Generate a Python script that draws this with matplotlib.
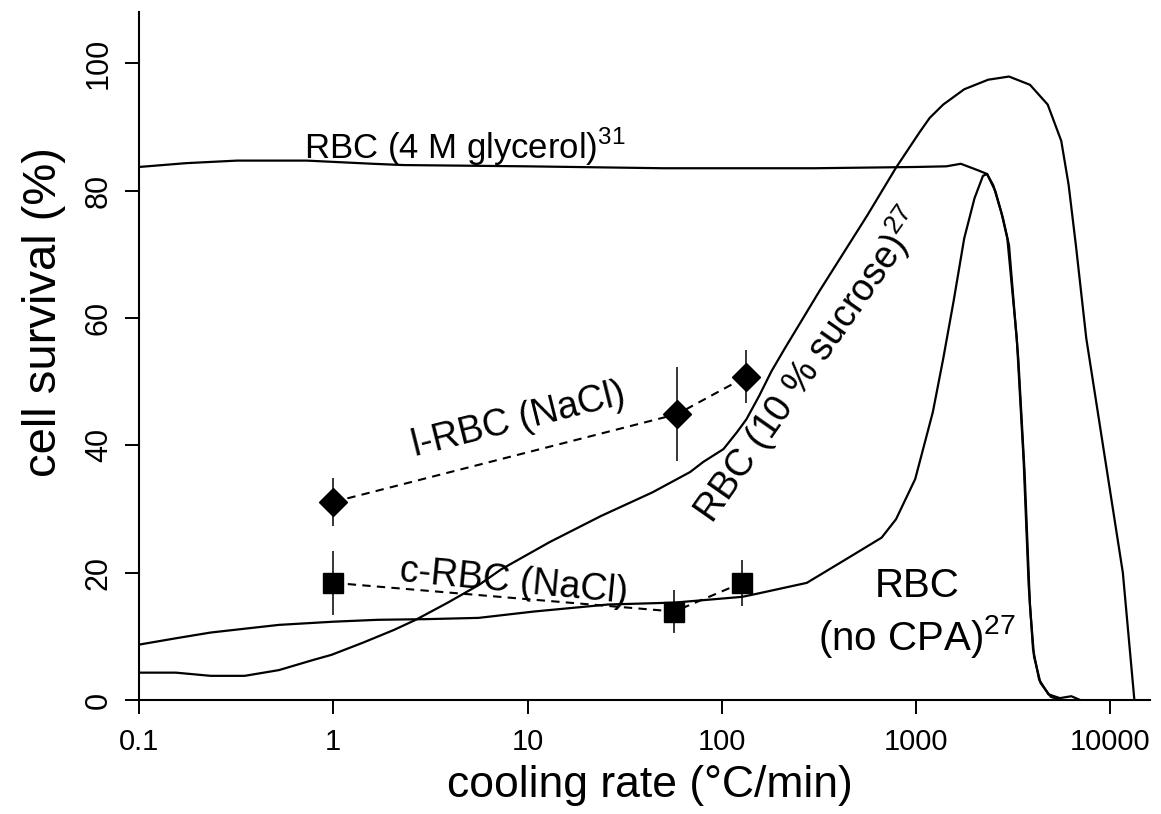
import numpy as np
import matplotlib
matplotlib.use("Agg")
import matplotlib.pyplot as plt
from matplotlib.ticker import NullLocator

plt.rcParams["font.family"] = ["Liberation Sans", "DejaVu Sans"]
plt.rcParams["mathtext.fontset"] = "custom"
plt.rcParams["mathtext.rm"] = "Liberation Sans"

# cooling rate (degC/min) and survival (%)
glycerol_x = [0.1, 0.175, 0.32, 0.73, 1.6, 2.3, 10, 50, 300, 1000, 1430, 1700, 2075,
              2320, 2560, 2800, 3010, 3360, 3620, 3860, 4050, 4370, 4940, 5600]
glycerol_y = [83.7, 84.3, 84.7, 84.7, 84.2, 84.0, 83.8, 83.5, 83.5, 83.7, 83.8, 84.2, 83.2,
              82.6, 79.9, 75.7, 71.4, 53.6, 35.8, 14.7, 6.8, 2.7, 0.5, 0.0]

nocpa_x = [0.1, 0.155, 0.234, 0.35, 0.525, 1.0, 1.7, 3.0, 5.6, 10.8, 26, 57, 127, 147,
           274, 441, 665, 789, 990, 1220, 1380, 1560, 1770, 2000, 2210, 2320, 2500,
           2750, 2950, 3300, 3580, 3800, 4000, 4300, 4800, 5500, 6300, 7000]
nocpa_y = [8.7, 9.7, 10.6, 11.2, 11.8, 12.3, 12.6, 12.7, 12.9, 13.9, 15.0, 15.3, 16.2, 16.6,
           18.4, 22.2, 25.5, 28.4, 34.7, 45.2, 53.6, 62.6, 72.5, 78.8, 82.3, 82.6, 80.8,
           76.5, 72.5, 56.8, 37.5, 18.0, 8.0, 3.2, 0.9, 0.3, 0.6, 0.0]

sucrose_x = [0.1, 0.155, 0.234, 0.35, 0.525, 0.79, 0.98, 1.42, 2.05, 2.66, 3.89, 5.64,
             7.3, 13, 23.9, 43.9, 68.7, 80.4, 102, 120, 134, 156, 180, 211, 318, 561,
             789, 1040, 1175, 1380, 1770, 2350, 3010, 3860, 4760, 5590, 6100, 6650,
             7520, 9630, 11600, 13300]
sucrose_y = [4.3, 4.3, 3.8, 3.8, 4.7, 6.3, 7.1, 9.0, 11.0, 12.6, 15.3, 18.1,
             20.5, 24.8, 28.9, 32.6, 35.8, 37.4, 39.4, 42.1, 44.1, 47.8, 51.6, 55.2, 64.2, 76.1,
             83.6, 89.1, 91.4, 93.5, 95.9, 97.4, 97.9, 96.6, 93.5, 87.8, 80.9, 71.4,
             56.8, 35.8, 20.0, 0.0]

lrbc_x = [1, 59, 134]
lrbc_y = [31.1, 44.9, 50.8]
lrbc_err = [3.8, 7.4, 4.2]

crbc_x = [1, 57, 127]
crbc_y = [18.4, 13.9, 18.4]
crbc_err = [5.0, 3.4, 3.6]

xticks = [0.1, 1, 10, 100, 1000, 10000]
xtick_labels = ["0.1", "1", "10", "100", "1000", "10000"]
yticks = [0, 20, 40, 60, 80, 100]

fig = plt.figure(figsize=(11.61, 8.14), dpi=100)
ax = fig.add_axes([0.1197, 0.140, 0.8708, 0.845])

for xs, ys in [(glycerol_x, glycerol_y), (nocpa_x, nocpa_y), (sucrose_x, sucrose_y)]:
    ax.plot(xs, ys, color="black", lw=1.6, solid_joinstyle="round")

ax.errorbar(lrbc_x, lrbc_y, yerr=lrbc_err, fmt="none", ecolor="black", elinewidth=1.1, capsize=0)
ax.errorbar(crbc_x, crbc_y, yerr=crbc_err, fmt="none", ecolor="black", elinewidth=1.1, capsize=0)
ax.plot(lrbc_x, lrbc_y, color="black", ls=(0, (4, 3)), lw=1.5,
        marker="D", markersize=14, markerfacecolor="black", markeredgecolor="black")
ax.plot(crbc_x, crbc_y, color="black", ls=(0, (4, 3)), lw=1.5,
        marker="s", markersize=14, markerfacecolor="black", markeredgecolor="black")

ax.set_xscale("log")
ax.set_xlim(0.1, 16000)
ax.set_ylim(0, 108)
ax.set_xticks(xticks)
ax.set_xticklabels(xtick_labels)
ax.xaxis.set_minor_locator(NullLocator())
ax.set_yticks(yticks)
ax.set_yticklabels([str(v) for v in yticks], rotation=90, va="center")

for side in ["top", "right"]:
    ax.spines[side].set_visible(False)
for side in ["left", "bottom"]:
    ax.spines[side].set_linewidth(1.5)

ax.tick_params(axis="both", direction="out", length=10, width=1.4)
ax.tick_params(axis="x", pad=10, labelsize=21)
ax.tick_params(axis="y", pad=8, labelsize=22)

ax.set_xlabel("cooling rate (°C/min)", fontsize=32)
ax.set_ylabel("cell survival (%)", fontsize=34)
ax.xaxis.set_label_coords(0.505, -0.094)
ax.yaxis.set_label_coords(-0.072, 0.564)

ax.text(0.71, 85.0, "RBC (4 M glycerol)$^{\\mathregular{31}}$", fontsize=25,
        ha="left", va="baseline")
ax.text(9.0, 44.0, "l-RBC (NaCl)", fontsize=27, rotation=14,
        rotation_mode="anchor", ha="center", va="center")
ax.text(8.45, 18.6, "c-RBC (NaCl)", fontsize=27, rotation=-5.5,
        rotation_mode="anchor", ha="center", va="center")
ax.text(280, 52.5, "RBC (10 % sucrose)$^{\\mathregular{27}}$", fontsize=27, rotation=55,
        rotation_mode="anchor", ha="center", va="center")
ax.text(1010, 13.6, "RBC\n(no CPA)$^{\\mathregular{27}}$", fontsize=29,
        ha="center", va="center", multialignment="center")

fig.savefig("out.png", dpi=100)
